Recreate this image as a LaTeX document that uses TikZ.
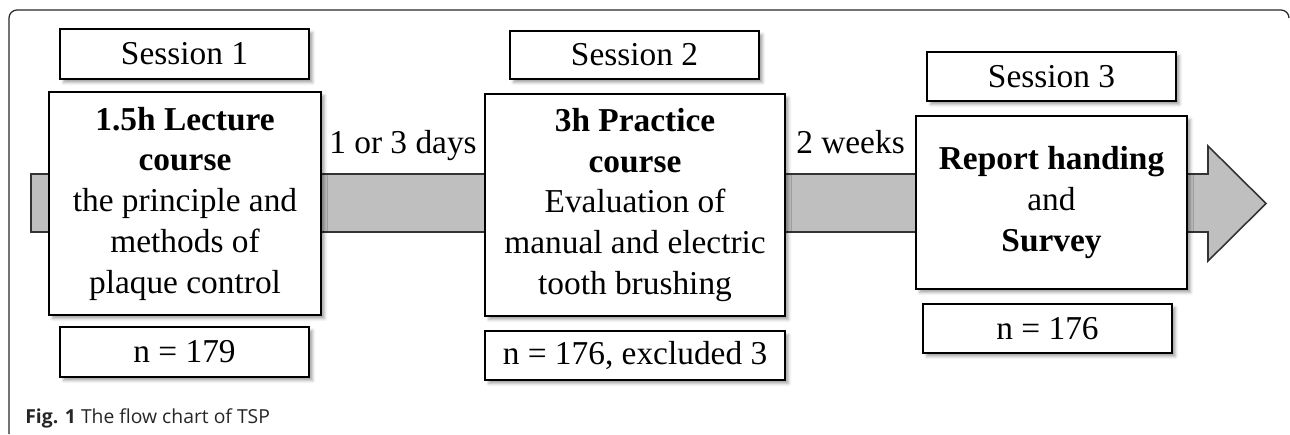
\documentclass[tikz,border=0pt]{standalone}
\usepackage{fontspec}
\setmainfont{Liberation Serif}
\newfontfamily\capfont{Open Sans}
\usetikzlibrary{calc,positioning,shadows.blur}

\tikzset{
  boxstyle/.style={draw, line width=1.1pt, fill=white, align=center, inner sep=0pt,
    blur shadow={shadow xshift=2pt, shadow yshift=-2pt, shadow blur radius=1.6pt, shadow opacity=35}},
  barstyle/.style={draw=black!80, line width=0.9pt, fill=black!25},
  gaplabel/.style={anchor=base, inner sep=0pt},
}

\begin{document}
\begin{tikzpicture}[x=0.02cm, y=-0.02cm]
                    \useasboundingbox (0,0) rectangle (1290,434);
                    {\fontsize{19}{23.2}\selectfont

                    % Drawing frame
                    \draw [line width=0.7pt, black!85, rounded corners=0.16cm] (9,434) -- (9,10) -- (1289,10) -- (1289,18);%

                    % Drawing time bar with head
                    \coordinate (tail) at (31,203.5);%
                    \coordinate (tip) at (1266,203.5);%
                    \draw [barstyle] (tail) ++(0,-29.5) -- (1208,174) -- (1208,146) -- (tip) -- (1208,261) -- (1208,232) -- ($(tail)+(0,28.5)$) -- cycle;%

                    % Drawing session 1
                    \node [boxstyle, minimum width=4.98cm, minimum height=1.0cm] (sessiona) at (184.5,54) {Session 1};%
                    \node [boxstyle, minimum width=5.44cm, minimum height=4.46cm] (coursea) at (185,203.5)
                      {\textbf{1.5h Lecture}\\ \textbf{course}\\ the principle and\\ methods of\\ plaque control};%
                    \node [boxstyle, minimum width=4.98cm, minimum height=1.0cm] (counta) at (184.5,352) {n = 179};%

                    % Drawing session 2
                    \node [boxstyle, minimum width=4.98cm, minimum height=0.96cm] (sessionb) at (634.5,55) {Session 2};%
                    \node [boxstyle, minimum width=6.0cm, minimum height=4.44cm] (courseb) at (635,205)
                      {\textbf{3h Practice}\\ \textbf{course}\\ Evaluation of\\ manual and electric\\ tooth brushing};%
                    \node [boxstyle, minimum width=6.0cm, minimum height=0.98cm] (countb) at (635,355.5) {n = 176, excluded 3};%

                    % Drawing session 3
                    \node [boxstyle, minimum width=4.98cm, minimum height=0.98cm] (sessionc) at (1051.5,76.5) {Session 3};%
                    \node [boxstyle, minimum width=5.42cm, minimum height=3.46cm] (coursec) at (1051.5,202.5)
                      {\textbf{Report handing}\\ and\\ \textbf{Survey}};%
                    \node [boxstyle, minimum width=4.98cm, minimum height=0.98cm] (countc) at (1047.5,328.5) {n = 176};%

                    % Marking gaps
                    \node [gaplabel] (gapab) at ($(coursea.east)!0.5!(courseb.west)+(0,-50.5)$) {1 or 3 days};%
                    \node [gaplabel] (gapbc) at ($(courseb.east)!0.5!(coursec.west)+(0,-50)$) {2 weeks};%
                    }

                    % Marking caption
                    \node [anchor=base west, inner sep=0pt, text=black!85] (caption) at (25,423)
                      {\capfont\fontsize{11}{13}\selectfont\textbf{Fig. 1} The flow chart of TSP};%
\end{tikzpicture}
\end{document}
